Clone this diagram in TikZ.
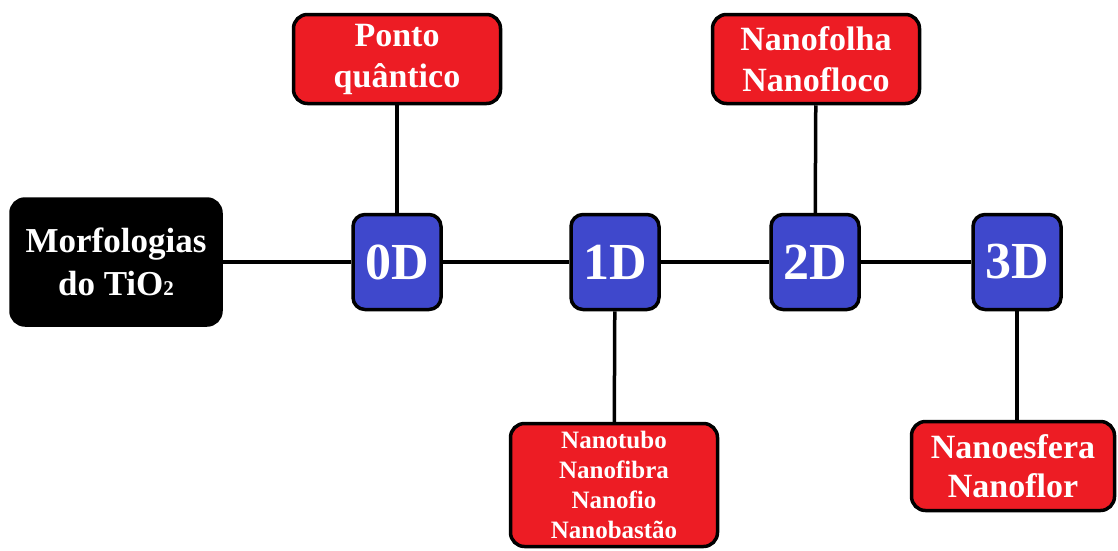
\documentclass[tikz,border=0pt]{standalone}
\usepackage{fontspec}
\setmainfont{Liberation Serif}
\usetikzlibrary{positioning}
\definecolor{boxred}{RGB}{237,28,36}
\definecolor{boxblue}{RGB}{63,72,204}
\tikzset{
    caixa/.style={draw, line width=3.5pt, rounded corners=14pt, text=white, align=center, inner sep=0pt},
    raiz/.style={caixa, fill=black, minimum width=210pt, minimum height=126pt, font=\fontsize{35}{43}\selectfont\bfseries},
    dimensao/.style={caixa, fill=boxblue, rounded corners=12pt, minimum width=88pt, minimum height=95pt, font=\fontsize{52}{52}\selectfont\bfseries},
    forma/.style={caixa, fill=boxred, minimum width=207pt, minimum height=89pt, font=\fontsize{34}{41}\selectfont\bfseries},
    liga/.style={line width=3.5pt}
}

\begin{document}
\begin{tikzpicture}[x=1pt, y=-1pt]
\useasboundingbox (0,0) rectangle (1118,550);

% eixo principal
\node[raiz] (morf) at (116,262) {Morfologias\\do TiO{\fontsize{21}{21}\selectfont 2}};
\node[dimensao] (d0) at (397,262) {0D};
\node[dimensao] (d1) at (615,262) {1D};
\node[dimensao] (d2) at (815,262) {2D};
\node[dimensao] (d3) at (1017,262) {3D};

% exemplos de cada dimensao
\node[forma] (ponto) at (397,59) {Ponto\\quântico};
\node[forma] (folha) at (816,59) {Nanofolha\\Nanofloco};
\node[forma, minimum height=123pt, font=\fontsize{25}{30}\selectfont\bfseries] (tubo) at (614,485) {Nanotubo\\Nanofibra\\Nanofio\\Nanobastão};
\node[forma, minimum width=203pt, font=\fontsize{34}{39}\selectfont\bfseries] (esfera) at (1013,466) {Nanoesfera\\Nanoflor};

\draw[liga] (morf) -- (d0) -- (d1) -- (d2) -- (d3);
\draw[liga] (d0) -- (ponto);
\draw[liga] (d1) -- (tubo);
\draw[liga] (d2) -- (folha);
\draw[liga] (d3) -- (d3 |- esfera.north);
\end{tikzpicture}
\end{document}
